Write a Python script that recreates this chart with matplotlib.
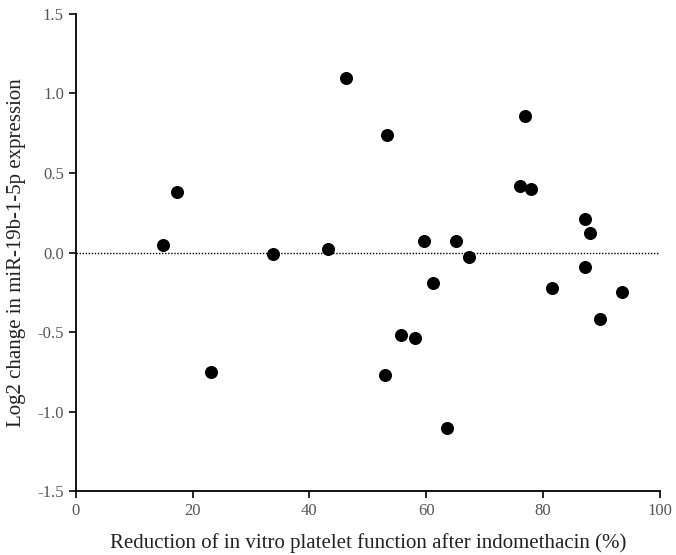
import matplotlib
matplotlib.use("Agg")
import matplotlib.pyplot as plt

plt.rcParams['font.family'] = ['Liberation Serif', 'DejaVu Serif']

# reduction of platelet function (%) and log2 change in miR-19b-1-5p
reduction = [15.0, 17.4, 23.1, 33.7, 43.2, 46.2, 53.3, 53.0, 55.7, 58.1,
             59.7, 61.2, 63.6, 65.1, 67.4, 76.1, 76.9, 77.9, 81.5, 87.2,
             87.2, 88.0, 89.7, 93.5]
log2_change = [0.05, 0.38, -0.75, -0.01, 0.02, 1.10, 0.74, -0.77, -0.52, -0.54,
               0.07, -0.19, -1.10, 0.07, -0.03, 0.42, 0.86, 0.40, -0.22, 0.21,
               -0.09, 0.12, -0.42, -0.25]

xticks = [0, 20, 40, 60, 80, 100]
yticks = [-1.5, -1.0, -0.5, 0.0, 0.5, 1.0, 1.5]

fig = plt.figure(figsize=(6.76, 5.55), dpi=100)
ax = fig.add_axes([0.112, 0.115, 0.864, 0.86])

ax.axhline(0, color='black', linestyle=(0, (1, 1.2)), linewidth=1.0, zorder=1)
ax.scatter(reduction, log2_change, s=70, color='black', zorder=3, clip_on=False)

ax.set_xlim(0, 100)
ax.set_ylim(-1.5, 1.5)
ax.set_xticks(xticks)
ax.set_xticklabels([str(t) for t in xticks])
ax.set_yticks(yticks)
ax.set_yticklabels([f"{t:.1f}" for t in yticks])

for side in ['top', 'right']:
    ax.spines[side].set_visible(False)
for side in ['left', 'bottom']:
    ax.spines[side].set_linewidth(1.3)

ax.tick_params(direction='out', length=5, width=1.2, labelsize=12,
               labelcolor='#555555', colors='black')
for lab in ax.get_xticklabels() + ax.get_yticklabels():
    lab.set_color('#555555')

ax.set_xlabel("Reduction of in vitro platelet function after indomethacin (%)",
              fontsize=15, color='#222222', labelpad=10)
ax.set_ylabel("Log2 change in miR-19b-1-5p expression",
              fontsize=15, color='#222222', labelpad=8)

fig.savefig("out.png", dpi=100)
